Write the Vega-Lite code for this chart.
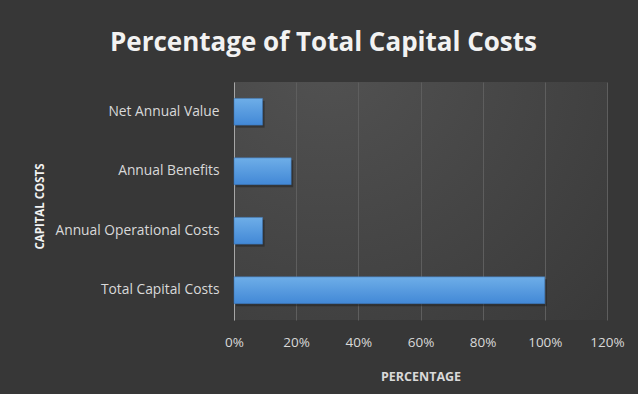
{
  "$schema": "https://vega.github.io/schema/vega-lite/v6.json",
  "width": 373,
  "height": 238,
  "autosize": {"type": "none"},
  "padding": {"left": 234, "top": 82, "right": 31, "bottom": 74},
  "background": "#373737",
  "title": {
    "text": "Percentage of Total Capital Costs",
    "font": "Open Sans",
    "fontSize": 26,
    "fontWeight": "bold",
    "color": "#f2f2f2",
    "anchor": "middle",
    "dx": -97,
    "baseline": "alphabetic",
    "offset": 5
  },
  "data": {
    "values": [
      {"category": "Total Capital Costs", "value": 1.0},
      {"category": "Annual Operational Costs", "value": 0.092},
      {"category": "Annual Benefits", "value": 0.184},
      {"category": "Net Annual Value", "value": 0.092}
    ]
  },
  "encoding": {
    "y": {
      "field": "category",
      "type": "nominal",
      "sort": ["Net Annual Value", "Annual Benefits", "Annual Operational Costs", "Total Capital Costs"],
      "scale": {"paddingInner": 0.55, "paddingOuter": 0.275},
      "axis": {
        "title": "CAPITAL COSTS",
        "titleFont": "Open Sans",
        "titleFontSize": 11.5,
        "titleFontWeight": "bold",
        "titleColor": "#f2f2f2",
        "titleAngle": -90,
        "titleX": -194,
        "titleY": 124,
        "titleAlign": "center",
        "titleBaseline": "middle",
        "labelFont": "Open Sans",
        "labelFontSize": 13.8,
        "labelColor": "#d9d9d9",
        "labelPadding": 15,
        "ticks": false,
        "domain": true,
        "domainColor": "#a6a6a6",
        "domainWidth": 1,
        "grid": false
      }
    },
    "x": {
      "field": "value",
      "type": "quantitative",
      "scale": {"domain": [0, 1.2]},
      "axis": {
        "title": "PERCENTAGE",
        "format": ".0%",
        "values": [0, 0.2, 0.4, 0.6, 0.8, 1.0, 1.2],
        "titleFont": "Open Sans",
        "titleFontSize": 12.5,
        "titleFontWeight": "bold",
        "titleColor": "#d9d9d9",
        "titleY": 56,
        "titleBaseline": "middle",
        "labelFont": "Open Sans",
        "labelFontSize": 13.5,
        "labelColor": "#d9d9d9",
        "labelPadding": 15,
        "labelFlush": false,
        "ticks": false,
        "domain": false,
        "grid": true,
        "gridColor": "#5e5e5e",
        "gridWidth": 1
      }
    }
  },
  "layer": [
    {
      "mark": {
        "type": "bar",
        "fill": "#1a1a1a",
        "opacity": 0.45,
        "xOffset": 2,
        "yOffset": 2.5
      }
    },
    {
      "mark": {
        "type": "bar",
        "fill": {
          "gradient": "linear",
          "x1": 0, "y1": 0, "x2": 0, "y2": 1,
          "stops": [
            {"offset": 0, "color": "#6eaee8"},
            {"offset": 1, "color": "#4288d6"}
          ]
        },
        "stroke": "#3a73b3",
        "strokeWidth": 0.5
      }
    }
  ],
  "config": {
    "view": {
      "stroke": null,
      "fill": {
        "gradient": "radial",
        "x1": 0.25, "y1": 0.1, "r1": 0,
        "x2": 0.25, "y2": 0.1, "r2": 1.1,
        "stops": [
          {"offset": 0, "color": "#525252"},
          {"offset": 1, "color": "#383838"}
        ]
      }
    }
  }
}
